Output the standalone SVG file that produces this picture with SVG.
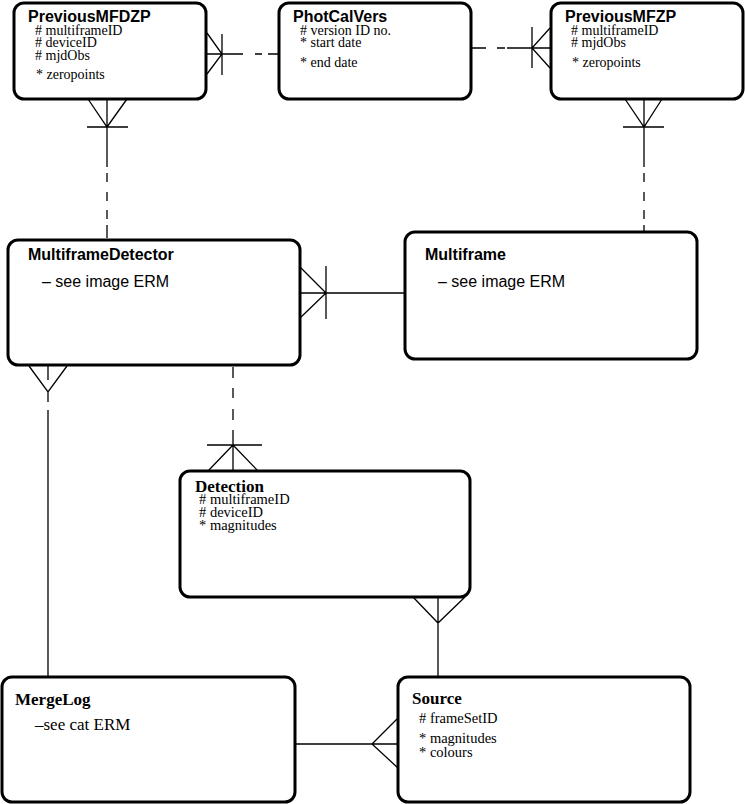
<svg xmlns="http://www.w3.org/2000/svg" width="745" height="804" viewBox="0 0 745 804">
<style>
.box{fill:#fff;stroke:#000;stroke-width:3}
.ln{fill:none;stroke:#000;stroke-width:1.3}
.dash{fill:none;stroke:#000;stroke-width:1.3;stroke-dasharray:9,9}
.ts{font-family:"Liberation Sans",Arial,sans-serif;font-weight:bold;font-size:16px}
.ss{font-family:"Liberation Sans",Arial,sans-serif;font-size:16px}
.tr{font-family:"Liberation Serif","Times New Roman",serif;font-weight:bold;font-size:17px}
.it{font-family:"Liberation Serif","Times New Roman",serif;font-size:14px}
.ib{font-family:"Liberation Serif","Times New Roman",serif;font-size:14.5px}
.sr{font-family:"Liberation Serif","Times New Roman",serif;font-size:17px}
text{fill:#000}
</style>
<rect width="745" height="804" fill="#fff"/>
<g id="connectors">
  <!-- PreviousMFDZP - PhotCalVers -->
  <path class="ln" d="M207,33 L222,54 L207,74 M207,54 L243,54 M222,34 L222,75"/>
  <path class="ln" d="M255,54 L262,54 M268,54 L279,54"/>
  <!-- PhotCalVers - PreviousMFZP -->
  <path class="ln" d="M471,48 L486,48 M497,48 L505,48 M507,48 L551,48 M550,28 L532,48 L550,68 M532,27 L532,68"/>
  <!-- PreviousMFDZP - MultiframeDetector -->
  <path class="ln" d="M88,99 L107,127 L127,99 M87,127 L128,127 M107,99 L107,167"/>
  <path class="ln" d="M107,173 L107,182 M107,192 L107,201 M107,210 L107,219 M107,225 L107,238"/>
  <!-- PreviousMFZP - Multiframe -->
  <path class="ln" d="M625,99 L644,127 L662,99 M623,127 L664,127 M644,99 L644,167"/>
  <path class="ln" d="M644,173 L644,182 M644,192 L644,201 M644,210 L644,219 M644,225 L644,231"/>
  <!-- MultiframeDetector - Multiframe -->
  <path class="ln" d="M300,267 L326,293 L300,318 M300,293 L405,293 M326,266 L326,319"/>
  <!-- MultiframeDetector - MergeLog -->
  <path class="ln" d="M29,366 L48,392 L67,366 M48,366 L48,380 M48,392 L48,402 M48,410 L48,677"/>
  <!-- MultiframeDetector - Detection -->
  <path class="ln" d="M233,367 L233,378 M233,388 L233,398 M233,409 L233,420 M233,430 L233,471 M207,445 L262,445 M208,471 L233,445 L258,471"/>
  <!-- Detection - Source -->
  <path class="ln" d="M413,597 L438,623 L465,597 M438,597 L438,677"/>
  <!-- MergeLog - Source -->
  <path class="ln" d="M295,744 L398,744 M398,718 L372,744 L398,768"/>
</g>
<g id="PreviousMFDZP">
  <rect class="box" x="14" y="3" width="192" height="96" rx="10"/>
  <text class="ts" x="28" y="22">PreviousMFDZP</text>
  <text class="it" x="35" y="34.5"># multiframeID</text>
  <text class="it" x="35" y="47"># deviceID</text>
  <text class="it" x="35" y="59.5"># mjdObs</text>
  <text class="it" x="36" y="79">* zeropoints</text>
</g>
<g id="PhotCalVers">
  <rect class="box" x="279" y="3" width="192" height="96" rx="10"/>
  <text class="ts" x="293" y="22">PhotCalVers</text>
  <text class="it" x="300" y="35"># version ID no.</text>
  <text class="it" x="300" y="47">* start date</text>
  <text class="it" x="300" y="67">* end date</text>
</g>
<g id="PreviousMFZP">
  <rect class="box" x="551" y="3" width="192" height="96" rx="10"/>
  <text class="ts" x="565" y="22">PreviousMFZP</text>
  <text class="it" x="571" y="34.5"># multiframeID</text>
  <text class="it" x="571" y="47"># mjdObs</text>
  <text class="it" x="572" y="67">* zeropoints</text>
</g>
<g id="MultiframeDetector">
  <rect class="box" x="8" y="240" width="292" height="125" rx="10"/>
  <text class="ts" x="28" y="260">MultiframeDetector</text>
  <text class="ss" x="42" y="287">– see image ERM</text>
</g>
<g id="Multiframe">
  <rect class="box" x="405" y="232" width="292" height="127" rx="10"/>
  <text class="ts" x="425" y="260">Multiframe</text>
  <text class="ss" x="438" y="287">– see image ERM</text>
</g>
<g id="Detection">
  <rect class="box" x="180" y="471" width="290" height="126" rx="10"/>
  <text class="tr" x="195" y="492">Detection</text>
  <text class="ib" x="199" y="504"># multiframeID</text>
  <text class="ib" x="199" y="517"># deviceID</text>
  <text class="ib" x="199" y="530">* magnitudes</text>
</g>
<g id="MergeLog">
  <rect class="box" x="2" y="677" width="293" height="125" rx="10"/>
  <text class="tr" x="15" y="705">MergeLog</text>
  <text class="sr" x="35" y="730">–see cat ERM</text>
</g>
<g id="Source">
  <rect class="box" x="398" y="677" width="292" height="125" rx="10"/>
  <text class="tr" x="412" y="704">Source</text>
  <text class="ib" x="419" y="723"># frameSetID</text>
  <text class="ib" x="419" y="742.5">* magnitudes</text>
  <text class="ib" x="419" y="756.5">* colours</text>
</g>
</svg>
